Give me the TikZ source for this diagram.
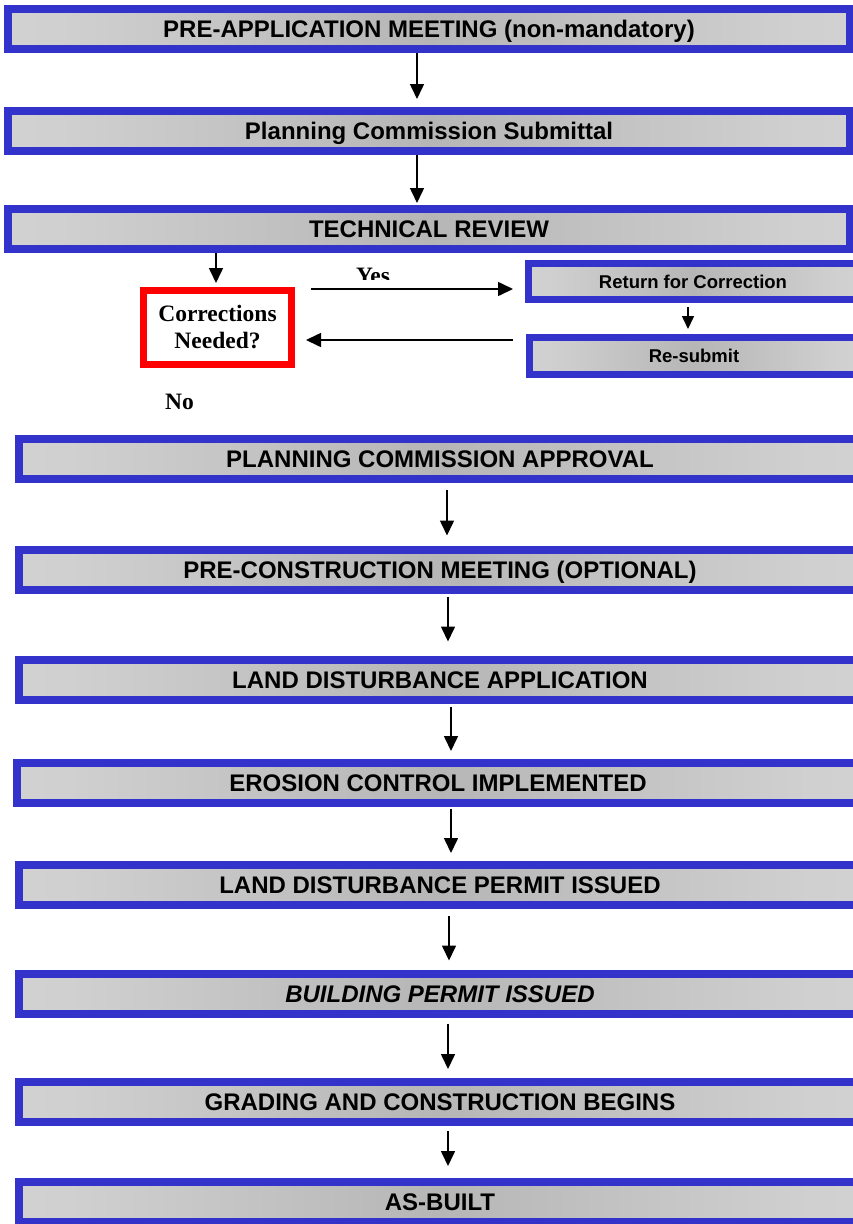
\documentclass[tikz,border=0pt]{standalone}
\usepackage{fontspec}
\setmainfont{Liberation Serif}
\setsansfont{Liberation Sans}
\usetikzlibrary{arrows.meta}
\definecolor{boxblue}{HTML}{3333CC}
\definecolor{edgegray}{HTML}{DADADA}
\definecolor{sidegray}{HTML}{D0D0D0}
\definecolor{midgray}{HTML}{B6B6B6}
\pgfdeclarehorizontalshading{boxshade}{100bp}{color(0bp)=(edgegray); color(28bp)=(sidegray); color(50bp)=(midgray); color(72bp)=(sidegray); color(100bp)=(edgegray)}
\tikzset{
 stagebox/.style={draw=boxblue, line width=8pt, shading=boxshade, inner sep=0pt, minimum width=842pt, minimum height=40pt, text height=17pt, text depth=0pt, font=\sffamily\bfseries\fontsize{24}{28}\selectfont, text=black},
 smallbox/.style={stagebox, line width=7pt, minimum width=329pt, minimum height=36pt, text height=13pt, font=\sffamily\bfseries\fontsize{18.5}{22}\selectfont},
 decisionbox/.style={draw=red, line width=7pt, fill=white, inner sep=0pt, minimum width=148pt, minimum height=74pt, align=center, font=\rmfamily\bfseries\fontsize{23.5}{27}\selectfont},
 flowarrow/.style={line width=1.6pt, -{Triangle[length=15pt,width=14pt]}},
 smallarrow/.style={line width=1.6pt, -{Triangle[length=13pt,width=12pt]}},
 answer/.style={font=\rmfamily\bfseries\fontsize{23.5}{27}\selectfont, inner sep=0pt, anchor=base}
}
\begin{document}
\begin{tikzpicture}[x=1pt,y=-1pt]
\useasboundingbox (0,0) rectangle (853,1224);
\clip (0,0) rectangle (853,1224);
% boxes
\node[stagebox] (preapp) at (429,28.5) {PRE-APPLICATION MEETING (non-mandatory)};
\node[stagebox] (submittal) at (429,131) {Planning Commission Submittal};
\node[stagebox] (review) at (429,229) {TECHNICAL REVIEW};
\node[decisionbox] (corr) at (217.5,327.5) {Corrections\\Needed?};
\node[smallbox] (return) at (693,281.5) {Return for Correction};
\node[smallbox, minimum height=37pt] (resubmit) at (694,356) {Re-submit};
\node[stagebox] (approval) at (440,458.5) {PLANNING COMMISSION APPROVAL};
\node[stagebox] (precon) at (440,569.5) {PRE-CONSTRUCTION MEETING (OPTIONAL)};
\node[stagebox] (ldapp) at (440,679.5) {LAND DISTURBANCE APPLICATION};
\node[stagebox] (erosion) at (438,783) {EROSION CONTROL IMPLEMENTED};
\node[stagebox] (ldpermit) at (440,885) {LAND DISTURBANCE PERMIT ISSUED};
\node[stagebox] (building) at (440,993.5) {\itshape BUILDING PERMIT ISSUED};
\node[stagebox] (grading) at (440,1102) {GRADING AND CONSTRUCTION BEGINS};
\node[stagebox] (asbuilt) at (440,1202) {AS-BUILT};
% labels
\begin{scope}
\clip (330,250) rectangle (410,279);
\node[answer] (yes) at (373,283) {Yes};
\end{scope}
\node[answer] (no) at (179.5,409) {No};
% columns and rows
\coordinate (colA) at (417,0);
\coordinate (colB) at (216,0);
\coordinate (colC) at (688,0);
\coordinate (colD) at (447,0);
\coordinate (colE) at (448,0);
\coordinate (colF) at (451,0);
\coordinate (colG) at (449,0);
\coordinate (rowYes) at (0,289);
\coordinate (rowBack) at (0,340);
% connectors
\draw[flowarrow, shorten >=8pt] (preapp.south -| colA) -- (submittal.north -| colA);
\draw[flowarrow, shorten >=2pt] (submittal.south -| colA) -- (review.north -| colA);
\draw[flowarrow, shorten >=4pt] (review.south -| colB) -- (corr.north -| colB);
\draw[flowarrow, shorten <=16pt, shorten >=12pt] (corr.east |- rowYes) -- (return.west |- rowYes);
\draw[smallarrow, shorten <=4pt, shorten >=5pt] (return.south -| colC) -- (resubmit.north -| colC);
\draw[flowarrow, shorten <=13pt, shorten >=11pt] (resubmit.west |- rowBack) -- (corr.east |- rowBack);
\draw[flowarrow, shorten <=7pt, shorten >=10pt] (approval.south -| colD) -- (precon.north -| colD);
\draw[flowarrow, shorten <=3pt, shorten >=14pt] (precon.south -| colE) -- (ldapp.north -| colE);
\draw[flowarrow, shorten <=3pt, shorten >=8pt] (ldapp.south -| colF) -- (erosion.north -| colF);
\draw[flowarrow, shorten <=2pt, shorten >=8pt] (erosion.south -| colF) -- (ldpermit.north -| colF);
\draw[flowarrow, shorten <=7pt, shorten >=9pt] (ldpermit.south -| colG) -- (building.north -| colG);
\draw[flowarrow, shorten <=6pt, shorten >=9pt] (building.south -| colE) -- (grading.north -| colE);
\draw[flowarrow, shorten <=5pt, shorten >=12pt] (grading.south -| colE) -- (asbuilt.north -| colE);
\end{tikzpicture}
\end{document}
